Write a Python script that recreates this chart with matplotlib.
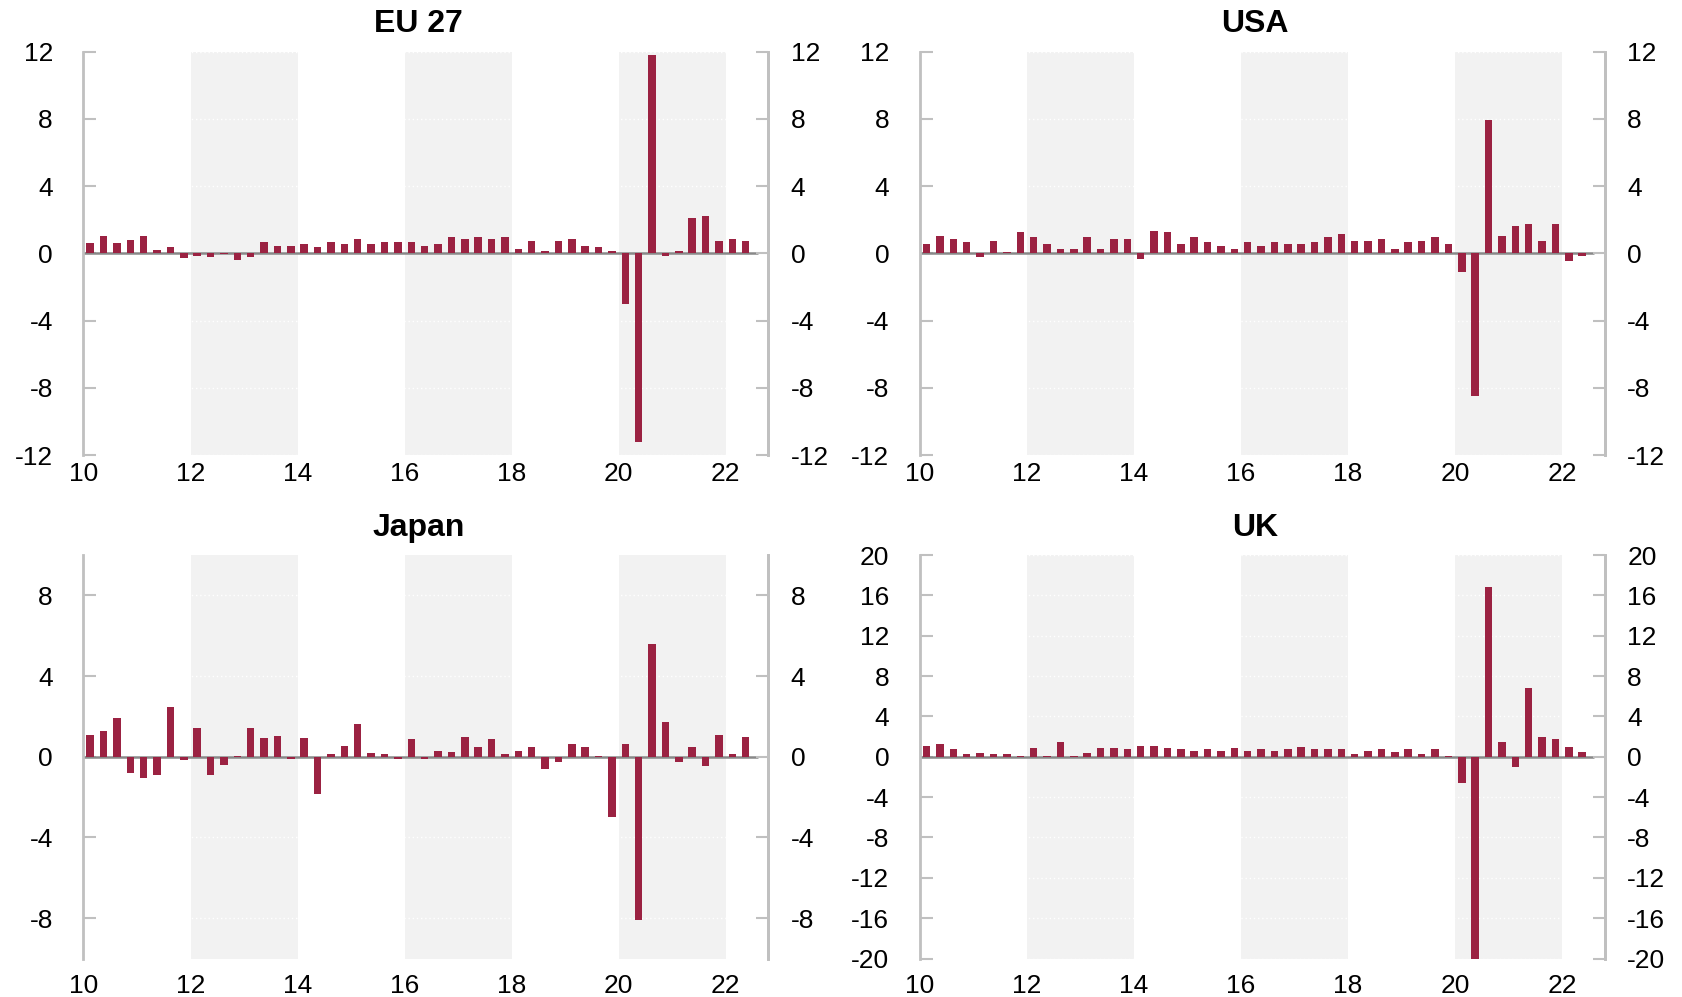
"""
Quarterly GDP growth, four economies
====================================

Bar charts of quarter-on-quarter GDP growth (%) from 2010Q1 to 2022Q2,
with alternating two-year bands shaded in light grey.
"""

import numpy as np
import matplotlib.pyplot as plt

plt.rcParams['font.family'] = ['Liberation Sans', 'DejaVu Sans']
plt.rcParams['axes.unicode_minus'] = False

#############################################
# Data
# ----
#

first_year = 2010
n_quarters = 50

eu27 = [0.6, 1.0, 0.6, 0.8, 1.0, 0.2, 0.4, -0.3, -0.15, -0.25,
        -0.05, -0.4, -0.25, 0.7, 0.45, 0.45, 0.55, 0.35, 0.65, 0.55,
        0.85, 0.55, 0.65, 0.65, 0.65, 0.45, 0.55, 0.95, 0.85, 0.95,
        0.85, 0.95, 0.25, 0.75, 0.15, 0.75, 0.85, 0.45, 0.35, 0.15,
        -3.0, -11.2, 11.8, -0.15, 0.15, 2.1, 2.2, 0.75, 0.85, 0.75]

usa = [0.55, 1.05, 0.85, 0.65, -0.25, 0.75, 0.05, 1.25, 0.95, 0.55,
       0.25, 0.25, 0.95, 0.25, 0.85, 0.85, -0.35, 1.35, 1.25, 0.55,
       0.95, 0.65, 0.45, 0.25, 0.65, 0.45, 0.65, 0.55, 0.55, 0.65,
       0.95, 1.15, 0.75, 0.75, 0.85, 0.25, 0.65, 0.75, 0.95, 0.55,
       -1.1, -8.5, 7.9, 1.05, 1.65, 1.75, 0.75, 1.75, -0.45, -0.15]

japan = [1.1, 1.3, 1.9, -0.8, -1.05, -0.9, 2.45, -0.15, 1.45, -0.9,
         -0.4, 0.05, 1.45, 0.95, 1.05, -0.13, 0.95, -1.83, 0.12, 0.53,
         1.63, 0.2, 0.12, -0.13, 0.86, -0.13, 0.3, 0.22, 1.0, 0.47,
         0.9, 0.15, 0.3, 0.47, -0.6, -0.28, 0.65, 0.47, 0.03, -3.0,
         0.65, -8.1, 5.6, 1.73, -0.28, 0.47, -0.45, 1.06, 0.15, 0.98]

uk = [1.05, 1.22, 0.73, 0.23, 0.4, 0.23, 0.23, 0.07, 0.9, 0.07,
      1.42, 0.07, 0.4, 0.9, 0.9, 0.73, 1.06, 1.06, 0.9, 0.73,
      0.56, 0.73, 0.56, 0.9, 0.56, 0.73, 0.6, 0.76, 0.92, 0.76,
      0.76, 0.76, 0.26, 0.6, 0.76, 0.43, 0.76, 0.26, 0.76, 0.1,
      -2.6, -21.0, 16.8, 1.45, -1.06, 6.8, 1.92, 1.75, 0.92, 0.43]

titles = ['EU 27', 'USA', 'Japan', 'UK']
series = [eu27, usa, japan, uk]
y_limits = [(-12, 12), (-12, 12), (-10, 10), (-20, 20)]
y_ticks = [np.arange(-12, 13, 4), np.arange(-12, 13, 4),
           np.arange(-8, 9, 4), np.arange(-20, 21, 4)]

x_ticks = [10, 12, 14, 16, 18, 20, 22]
shaded_bands = [(12, 14), (16, 18), (20, 22)]

#############################################
# Plot
# ----
#

bar_color = '#9b2242'
spine_color = '#c0c0c0'
tick_size = 19
title_size = 23

# Bars centred in each quarter, x in two-digit years
x = (first_year - 2000) + (np.arange(n_quarters) + 0.5) / 4.

fig = plt.figure(figsize=(16.83, 9.97), dpi=100)

# [left, bottom, width, height] for each panel
lefts = [0.0496, 0.5466, 0.0496, 0.5466]
bottoms = [0.5436, 0.5436, 0.0386, 0.0386]
x_label_pad = [5, 5, 11, 11]
width = 0.407
height = 0.4047

for ii in range(4):
    ax = fig.add_axes([lefts[ii], bottoms[ii], width, height])

    for x0, x1 in shaded_bands:
        ax.axvspan(x0, x1, color='#f2f2f2', lw=0, zorder=0)

    for yt in y_ticks[ii]:
        ax.axhline(yt, color='white', lw=1, ls=(0, (1, 2)), zorder=1)

    ax.bar(x, series[ii], width=0.14, color=bar_color, zorder=3)
    ax.plot([10, 22.6], [0, 0], color='#888888', lw=1.8, zorder=2,
            solid_capstyle='butt')

    ax.set_xlim(10, 22.8)
    ax.set_ylim(*y_limits[ii])
    ax.set_xticks(x_ticks)
    ax.set_yticks(y_ticks[ii])

    for side in ['top', 'bottom']:
        ax.spines[side].set_visible(False)
    for side in ['left', 'right']:
        ax.spines[side].set_color(spine_color)
        ax.spines[side].set_linewidth(2)

    ax.tick_params(axis='y', direction='in', length=9, width=1.5,
                   color=spine_color, labelsize=tick_size, pad=22)
    ax.tick_params(axis='x', length=0, labelsize=tick_size,
                   pad=x_label_pad[ii])

    # right hand axis is a copy of the left one, closer labels
    ax2 = ax.twinx()
    ax2.set_ylim(*y_limits[ii])
    ax2.set_yticks(y_ticks[ii])
    for side in ['top', 'bottom', 'left']:
        ax2.spines[side].set_visible(False)
    ax2.spines['right'].set_color(spine_color)
    ax2.spines['right'].set_linewidth(2)
    ax2.tick_params(axis='y', direction='in', length=9, width=1.5,
                    color=spine_color, labelsize=tick_size, pad=16)

    ax.set_title(titles[ii], fontsize=title_size, fontweight='bold',
                 x=0.489, pad=14)

fig.savefig('out.png', dpi=100)
